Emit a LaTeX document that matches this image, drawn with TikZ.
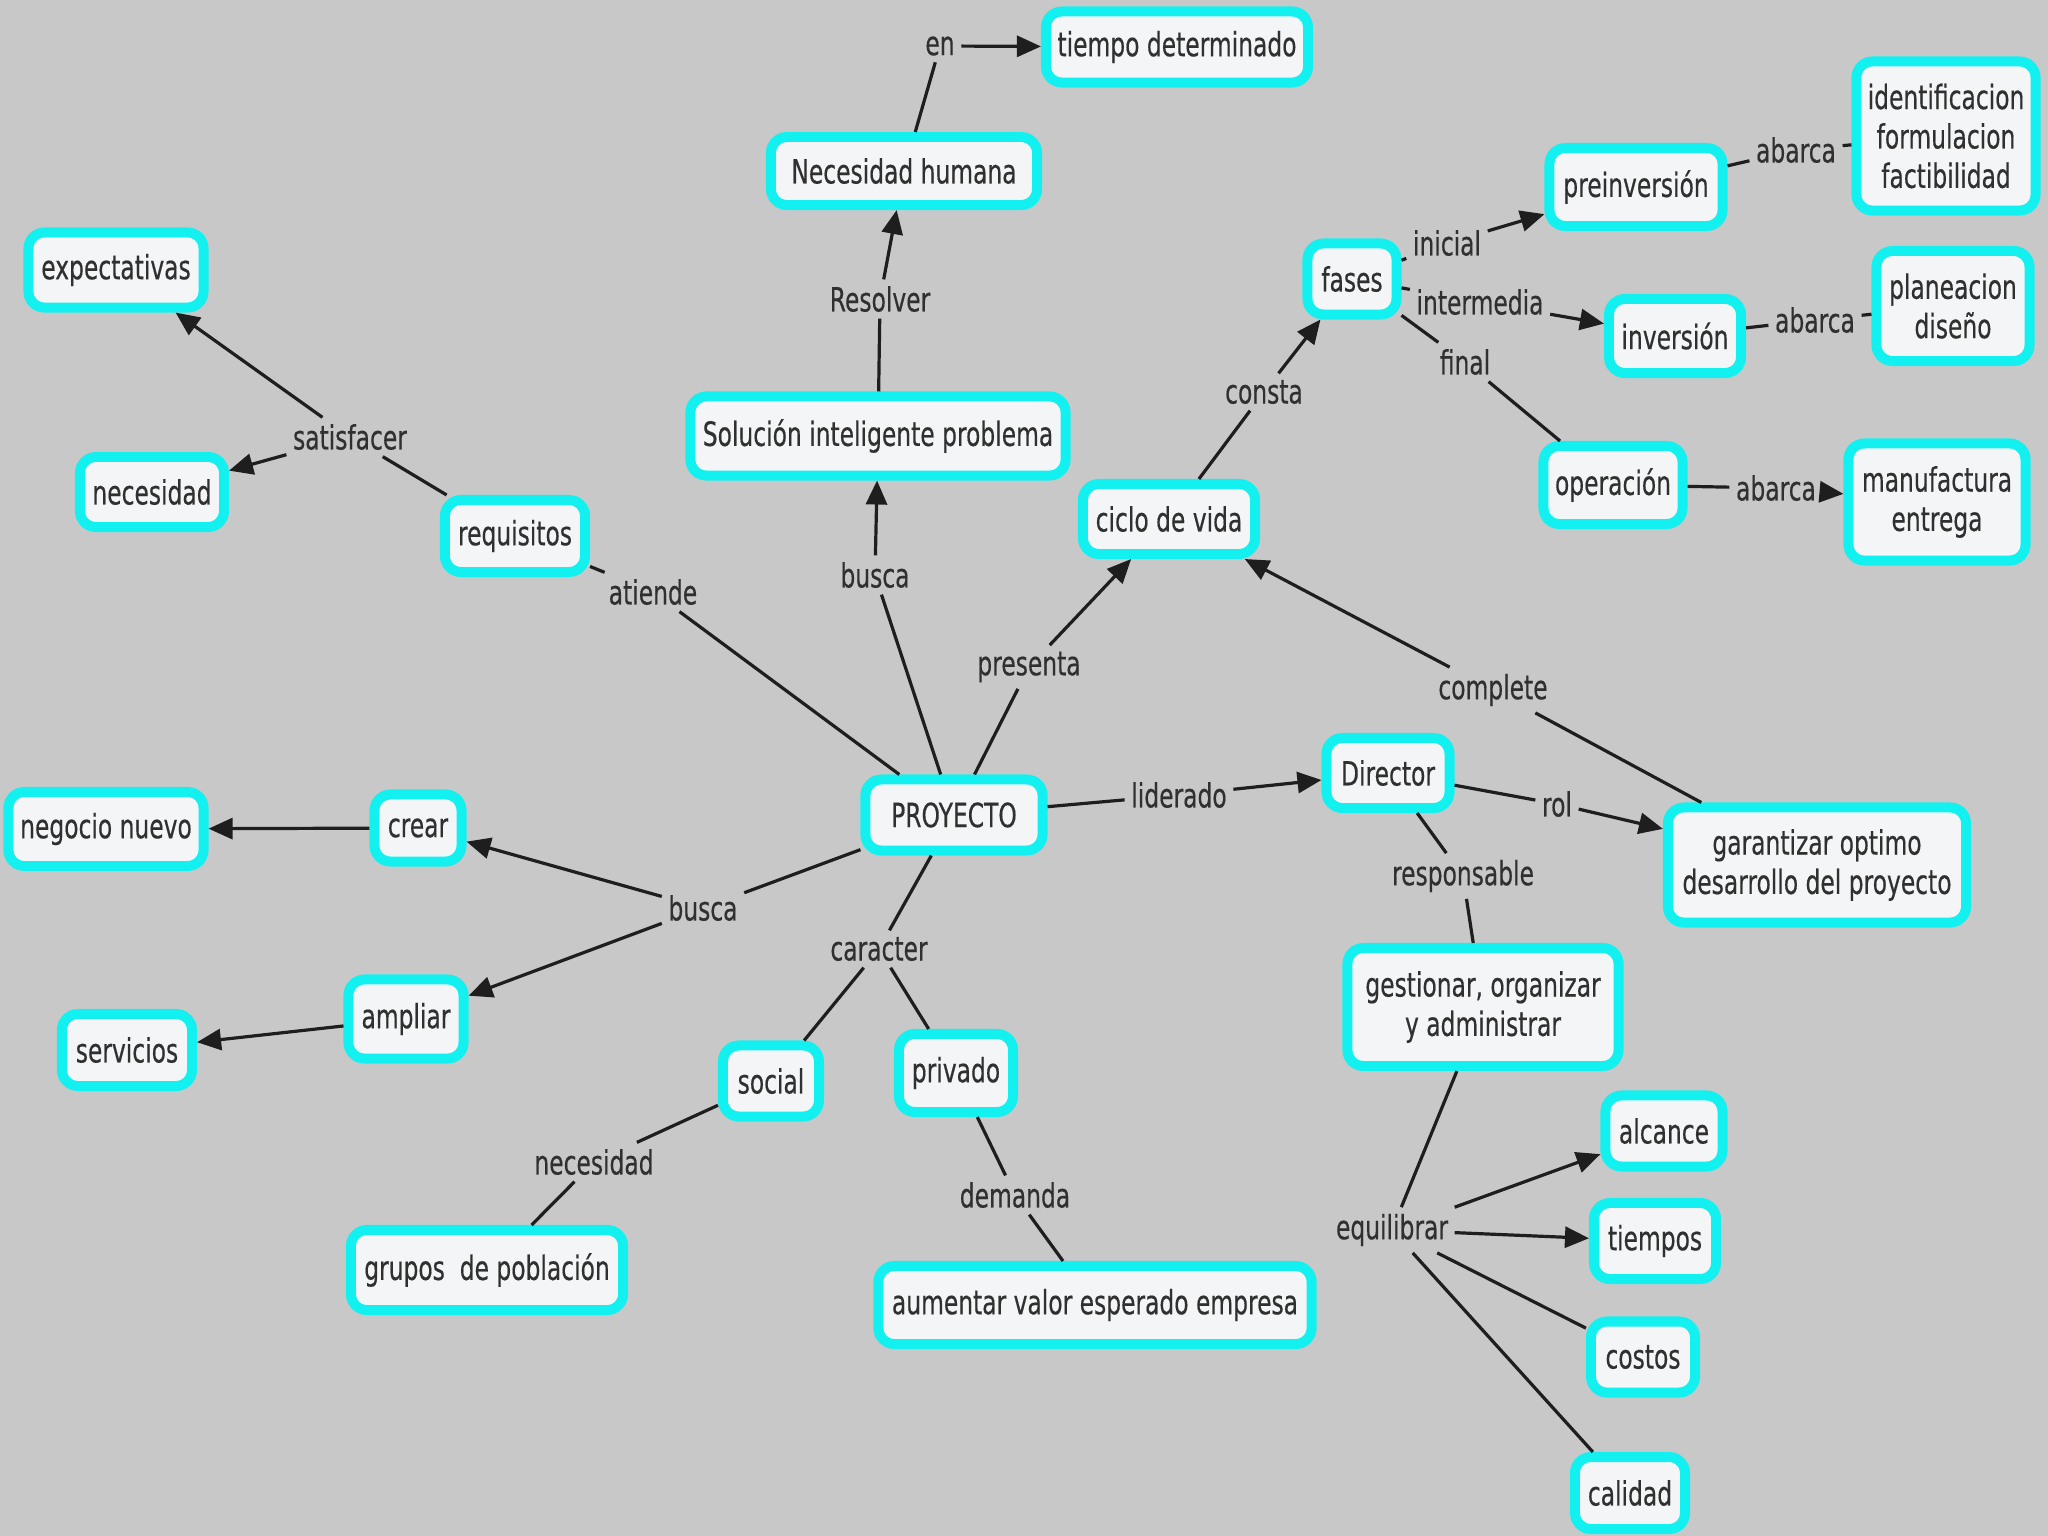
\documentclass[tikz,border=0pt]{standalone}
\usepackage{fontspec}
\setmainfont{DejaVu Sans}[FakeStretch=0.7,FakeBold=0.4]
\usetikzlibrary{arrows.meta}
\definecolor{bg}{HTML}{C8C8C8}
\definecolor{cyanb}{HTML}{12F0F0}
\definecolor{boxfill}{HTML}{F3F5F7}
\definecolor{ink}{HTML}{303030}
\definecolor{lineink}{HTML}{1E1E1E}
\begin{document}
\begin{tikzpicture}[x=0.01cm,y=-0.01cm,
  cbox/.style={draw=cyanb, line width=0.1cm, fill=boxfill, rounded corners=0.16cm, align=center, text=ink, font=\fontsize{9.5}{11.2}\selectfont, inner sep=0pt},
  lbl/.style={text=ink, font=\fontsize{9.5}{11.2}\selectfont, inner sep=0.06cm},
  ln/.style={draw=lineink, line width=0.032cm},
  ar/.style={ln, -{Triangle[length=0.24cm,width=0.21cm]}}]
\path[fill=bg] (0,0) rectangle (2048,1536);
\useasboundingbox (0,0) rectangle (2048,1536);
% concept boxes
\node[cbox, minimum width=2.62cm, minimum height=0.71cm] (TD) at (1177,47) {tiempo determinado};
\node[cbox, minimum width=2.66cm, minimum height=0.68cm] (NH) at (904,171) {Necesidad humana};
\node[cbox, minimum width=3.75cm, minimum height=0.79cm] (SOL) at (878,436) {Solución inteligente problema};
\node[cbox, minimum width=1.75cm, minimum height=0.75cm] (EXP) at (116,270) {expectativas};
\node[cbox, minimum width=1.44cm, minimum height=0.70cm] (NEC) at (152,492) {necesidad};
\node[cbox, minimum width=1.40cm, minimum height=0.72cm] (REQ) at (515,536) {requisitos};
\node[cbox, minimum width=1.72cm, minimum height=0.70cm] (CIC) at (1169,519) {ciclo de vida};
\node[cbox, minimum width=0.89cm, minimum height=0.71cm] (FAS) at (1352,279) {fases};
\node[cbox, minimum width=1.73cm, minimum height=0.78cm] (PRE) at (1636,187) {preinversión};
\node[cbox, minimum width=1.79cm, minimum height=1.49cm] (IDF) at (1946,136) {identificacion\\formulacion\\factibilidad};
\node[cbox, minimum width=1.32cm, minimum height=0.74cm] (INV) at (1675,336) {inversión};
\node[cbox, minimum width=1.53cm, minimum height=1.10cm] (PLA) at (1953,306) {planeacion\\diseño};
\node[cbox, minimum width=1.39cm, minimum height=0.78cm] (OPE) at (1613,485) {operación};
\node[cbox, minimum width=1.77cm, minimum height=1.17cm] (MAN) at (1937,502) {manufactura\\entrega};
\node[cbox, minimum width=1.77cm, minimum height=0.71cm] (PRO) at (954,815) {PROYECTO};
\node[cbox, minimum width=1.95cm, minimum height=0.74cm] (NEG) at (106,829) {negocio nuevo};
\node[cbox, minimum width=0.87cm, minimum height=0.67cm] (CRE) at (418,828) {crear};
\node[cbox, minimum width=1.15cm, minimum height=0.79cm] (AMP) at (406,1019) {ampliar};
\node[cbox, minimum width=1.30cm, minimum height=0.72cm] (SER) at (127,1050) {servicios};
\node[cbox, minimum width=0.96cm, minimum height=0.71cm] (SOC) at (771,1081) {social};
\node[cbox, minimum width=1.14cm, minimum height=0.78cm] (PRI) at (956,1073) {privado};
\node[cbox, minimum width=2.72cm, minimum height=0.80cm] (GRU) at (487,1270) {grupos\ \ de población};
\node[cbox, minimum width=4.33cm, minimum height=0.78cm] (AUM) at (1095,1305) {aumentar valor esperado empresa};
\node[cbox, minimum width=1.23cm, minimum height=0.70cm] (DIR) at (1388,773) {Director};
\node[cbox, minimum width=2.98cm, minimum height=1.15cm] (GAR) at (1817,865) {garantizar optimo\\desarrollo del proyecto};
\node[cbox, minimum width=2.71cm, minimum height=1.18cm] (GES) at (1483,1007) {gestionar, organizar\\y administrar};
\node[cbox, minimum width=1.17cm, minimum height=0.71cm] (ALC) at (1664,1131) {alcance};
\node[cbox, minimum width=1.22cm, minimum height=0.76cm] (TIE) at (1655,1241) {tiempos};
\node[cbox, minimum width=1.04cm, minimum height=0.71cm] (COS) at (1643,1357) {costos};
\node[cbox, minimum width=1.10cm, minimum height=0.72cm] (CAL) at (1630,1493) {calidad};
% linking phrases
\node[lbl] (en) at (940,46) {en};
\node[lbl] (resolver) at (880,299) {Resolver};
\node[lbl] (buscaA) at (875,575) {busca};
\node[lbl] (atiende) at (653,592) {atiende};
\node[lbl] (satisf) at (350,437) {satisfacer};
\node[lbl] (presenta) at (1029,667) {presenta};
\node[lbl] (consta) at (1264,392) {consta};
\node[lbl] (inicial) at (1447,243) {inicial};
\node[lbl] (intermedia) at (1480,302) {intermedia};
\node[lbl] (final) at (1465,362) {final};
\node[lbl] (abarcaA) at (1796,150) {abarca};
\node[lbl] (abarcaB) at (1815,320) {abarca};
\node[lbl] (abarcaC) at (1776,488) {abarca};
\node[lbl] (complete) at (1493,690) {complete};
\node[lbl] (liderado) at (1179,795) {liderado};
\node[lbl] (rol) at (1557,804) {rol};
\node[lbl] (respons) at (1463,876) {responsable};
\node[lbl] (buscaB) at (703,908) {busca};
\node[lbl] (caracter) at (879,949) {caracter};
\node[lbl] (necesl) at (594,1162) {necesidad};
\node[lbl] (demanda) at (1015,1195) {demanda};
\node[lbl] (equil) at (1392,1230) {equilibrar};
% connectors
\draw[ln] (NH) -- (en); \draw[ar] (en) -- (TD);
\draw[ln] (SOL) -- (resolver); \draw[ar] (resolver) -- (NH);
\draw[ln] (PRO) -- (buscaA); \draw[ar] (buscaA) -- (SOL);
\draw[ln] (PRO) -- (atiende); \draw[ln] (atiende) -- (REQ);
\draw[ln] (REQ) -- (satisf); \draw[ar] (satisf) -- (EXP); \draw[ar] (satisf) -- (NEC);
\draw[ln] (PRO) -- (presenta); \draw[ar] (presenta) -- (CIC);
\draw[ln] (CIC) -- (consta); \draw[ar] (consta) -- (FAS);
\draw[ln] (FAS) -- (inicial); \draw[ar] (inicial) -- (PRE);
\draw[ln] (FAS) -- (intermedia); \draw[ar] (intermedia) -- (INV);
\draw[ln] (FAS) -- (final); \draw[ln] (final) -- (OPE);
\draw[ln] (PRE) -- (abarcaA); \draw[ln] (abarcaA) -- (IDF);
\draw[ln] (INV) -- (abarcaB); \draw[ln] (abarcaB) -- (PLA);
\draw[ln] (OPE) -- (abarcaC); \draw[ar] (abarcaC) -- (MAN);
\draw[ln] (GAR) -- (complete); \draw[ar] (complete) -- (CIC);
\draw[ln] (PRO) -- (liderado); \draw[ar] (liderado) -- (DIR);
\draw[ln] (DIR) -- (rol); \draw[ar] (rol) -- (GAR);
\draw[ln] (DIR) -- (respons); \draw[ln] (respons) -- (GES);
\draw[ln] (GES) -- (equil);
\draw[ar] (equil) -- (ALC); \draw[ar] (equil) -- (TIE);
\draw[ln] (equil) -- (COS); \draw[ln] (equil) -- (CAL);
\draw[ln] (PRO) -- (buscaB); \draw[ar] (buscaB) -- (CRE); \draw[ar] (buscaB) -- (AMP);
\draw[ar] (CRE) -- (NEG); \draw[ar] (AMP) -- (SER);
\draw[ln] (PRO) -- (caracter); \draw[ln] (caracter) -- (SOC); \draw[ln] (caracter) -- (PRI);
\draw[ln] (SOC) -- (necesl); \draw[ln] (necesl) -- (GRU);
\draw[ln] (PRI) -- (demanda); \draw[ln] (demanda) -- (AUM);
\end{tikzpicture}
\end{document}
